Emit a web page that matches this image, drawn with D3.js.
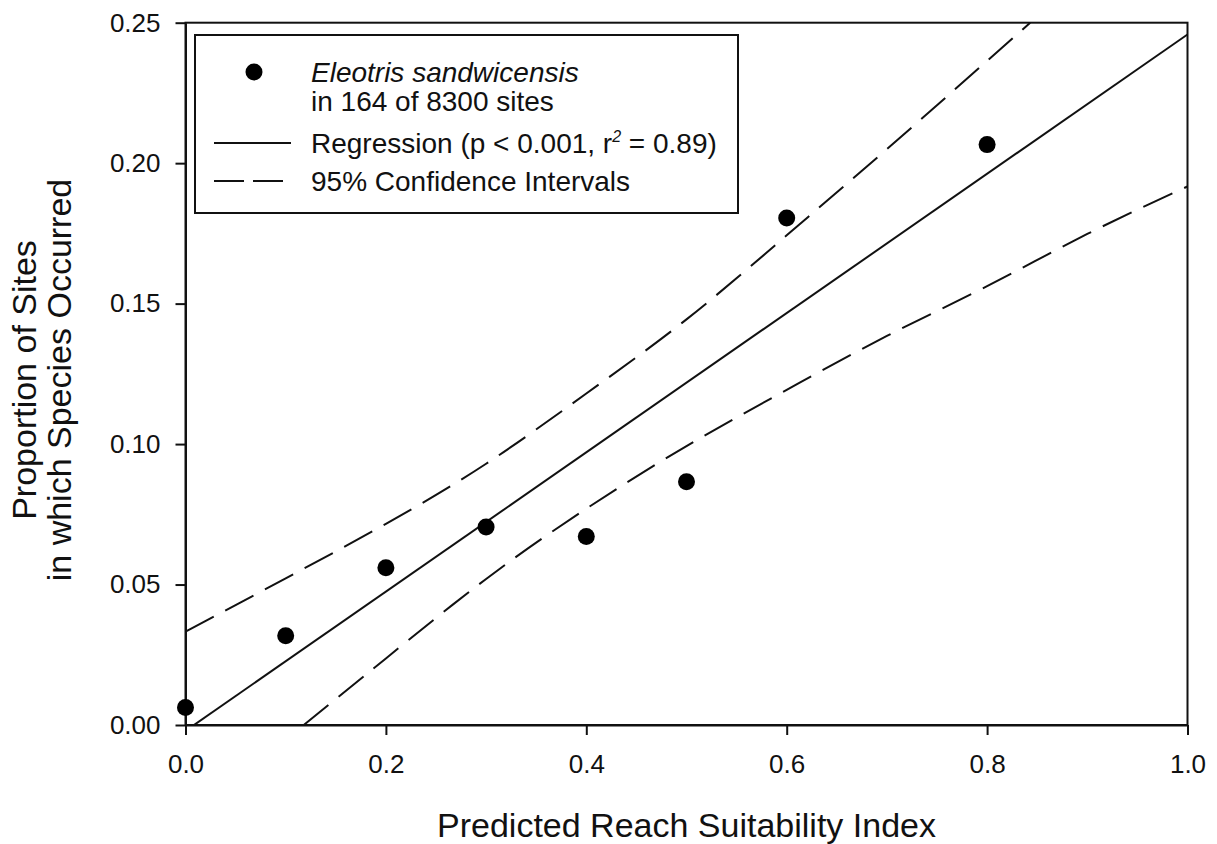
<!DOCTYPE html>
<html>
<head>
<meta charset="utf-8">
<script src="https://cdn.jsdelivr.net/npm/d3@7/dist/d3.min.js"></script>
<style>
  html, body { margin: 0; padding: 0; background: #fff; }
  svg { display: block; }
  text { font-family: "Liberation Sans", Arial, Helvetica, sans-serif; fill: #111; }
</style>
</head>
<body>
<svg id="chart" width="1217" height="844"></svg>
<script>
// ---- Data ----
const suitabilityX = [0.0, 0.1, 0.2, 0.3, 0.4, 0.5, 0.6, 0.8];
const proportionY  = [0.0062, 0.0318, 0.0560, 0.0705, 0.0671, 0.0866, 0.1805, 0.2066];

const regressionX = [0.0, 1.0];
const regressionY = [-0.0021, 0.2458];

const upperCIX = [0.0, 0.1, 0.2, 0.3, 0.4, 0.5, 0.6, 0.7, 0.8, 0.843];
const upperCIY = [0.0332, 0.0522, 0.0716, 0.0930, 0.1180, 0.1444, 0.1743, 0.2050, 0.2364, 0.2500];

const lowerCIX = [0.118, 0.2, 0.3, 0.4, 0.5, 0.6, 0.7, 0.8, 0.9, 1.0];
const lowerCIY = [0.0, 0.0237, 0.0520, 0.0770, 0.0993, 0.1193, 0.1385, 0.1562, 0.1748, 0.1917];

const xTicks = [0.0, 0.2, 0.4, 0.6, 0.8, 1.0];
const yTicks = [0.00, 0.05, 0.10, 0.15, 0.20, 0.25];

const xTitle = "Predicted Reach Suitability Index";
const yTitleLines = ["Proportion of Sites", "in which Species Occurred"];
const legendSpecies = "Eleotris sandwicensis";
const legendSites = "in 164 of 8300 sites";
const legendCI = "95% Confidence Intervals";

// ---- Layout ----
const svg = d3.select("#chart");
const L = 185.5, R = 1187.5, T = 22.7, B = 725;
const x = d3.scaleLinear().domain([0, 1]).range([L, R]);
const y = d3.scaleLinear().domain([0, 0.25]).range([B, T]);

const defs = svg.append("defs");
defs.append("clipPath").attr("id", "plotclip")
  .append("rect").attr("x", L).attr("y", T).attr("width", R - L).attr("height", B - T);

// frame
svg.append("rect")
  .attr("x", L).attr("y", T).attr("width", R - L).attr("height", B - T)
  .attr("fill", "none").attr("stroke", "#111").attr("stroke-width", 2);

// axes
const xAxis = d3.axisBottom(x).tickValues(xTicks).tickFormat(d3.format(".1f"))
  .tickSize(10).tickSizeOuter(0).tickPadding(20);
const yAxis = d3.axisLeft(y).tickValues(yTicks).tickFormat(d3.format(".2f"))
  .tickSize(10).tickSizeOuter(0).tickPadding(15);

const gx = svg.append("g").attr("transform", `translate(0,${B})`).call(xAxis);
const gy = svg.append("g").attr("transform", `translate(${L},0)`).call(yAxis);
[gx, gy].forEach(g => {
  g.attr("font-size", null).attr("font-family", null);
  g.select(".domain").attr("stroke", "#111").attr("stroke-width", 2);
  g.selectAll(".tick line").attr("stroke", "#111").attr("stroke-width", 2);
  g.selectAll(".tick text").attr("fill", "#111")
    .style("font-family", '"Liberation Sans", Arial, sans-serif').style("font-size", "26px");
});

// titles
svg.append("text")
  .attr("x", (L + R) / 2).attr("y", 837)
  .attr("text-anchor", "middle").style("font-size", "34px")
  .text(xTitle);

const yt = svg.append("text")
  .attr("transform", `translate(36,380) rotate(-90)`)
  .attr("text-anchor", "middle").style("font-size", "34px");
yTitleLines.forEach((s, i) => {
  yt.append("tspan").attr("x", 0).attr("dy", i === 0 ? 0 : 35).text(s);
});

// lines
const plot = svg.append("g").attr("clip-path", "url(#plotclip)");
const line = d3.line().x(d => x(d[0])).y(d => y(d[1]));
const lineCurve = d3.line().x(d => x(d[0])).y(d => y(d[1])).curve(d3.curveNatural);

plot.append("path")
  .datum(regressionX.map((v, i) => [v, regressionY[i]]))
  .attr("d", line).attr("fill", "none").attr("stroke", "#111").attr("stroke-width", 2);

[[upperCIX, upperCIY], [lowerCIX, lowerCIY]].forEach(([xs, ys]) => {
  plot.append("path")
    .datum(xs.map((v, i) => [v, ys[i]]))
    .attr("d", lineCurve).attr("fill", "none").attr("stroke", "#111")
    .attr("stroke-width", 2).attr("stroke-dasharray", "32,13");
});

// points
svg.append("g").selectAll("circle")
  .data(suitabilityX.map((v, i) => [v, proportionY[i]]))
  .join("circle")
  .attr("cx", d => x(d[0])).attr("cy", d => y(d[1]))
  .attr("r", 8.5).attr("fill", "#000");

// legend
const lg = svg.append("g");
lg.append("rect").attr("x", 195).attr("y", 35).attr("width", 543).attr("height", 178)
  .attr("fill", "#fff").attr("stroke", "#111").attr("stroke-width", 2);
lg.append("circle").attr("cx", 254).attr("cy", 72).attr("r", 8.5).attr("fill", "#000");
lg.append("text").attr("x", 311).attr("y", 82).style("font-size", "28px")
  .style("font-style", "italic").text(legendSpecies);
lg.append("text").attr("x", 311).attr("y", 111).style("font-size", "28px").text(legendSites);
lg.append("line").attr("x1", 214).attr("x2", 291).attr("y1", 143).attr("y2", 143)
  .attr("stroke", "#111").attr("stroke-width", 2);
const reg = lg.append("text").attr("x", 311).attr("y", 153).style("font-size", "28px");
reg.append("tspan").text("Regression (p < 0.001, r");
reg.append("tspan").attr("dy", -11).style("font-size", "16px").style("font-style", "italic").text("2");
reg.append("tspan").attr("dy", 11).text(" = 0.89)");
lg.append("line").attr("x1", 214).attr("x2", 283).attr("y1", 181).attr("y2", 181)
  .attr("stroke", "#111").attr("stroke-width", 2).attr("stroke-dasharray", "30,9");
lg.append("text").attr("x", 311).attr("y", 191).style("font-size", "28px").text(legendCI);
</script>
</body>
</html>
